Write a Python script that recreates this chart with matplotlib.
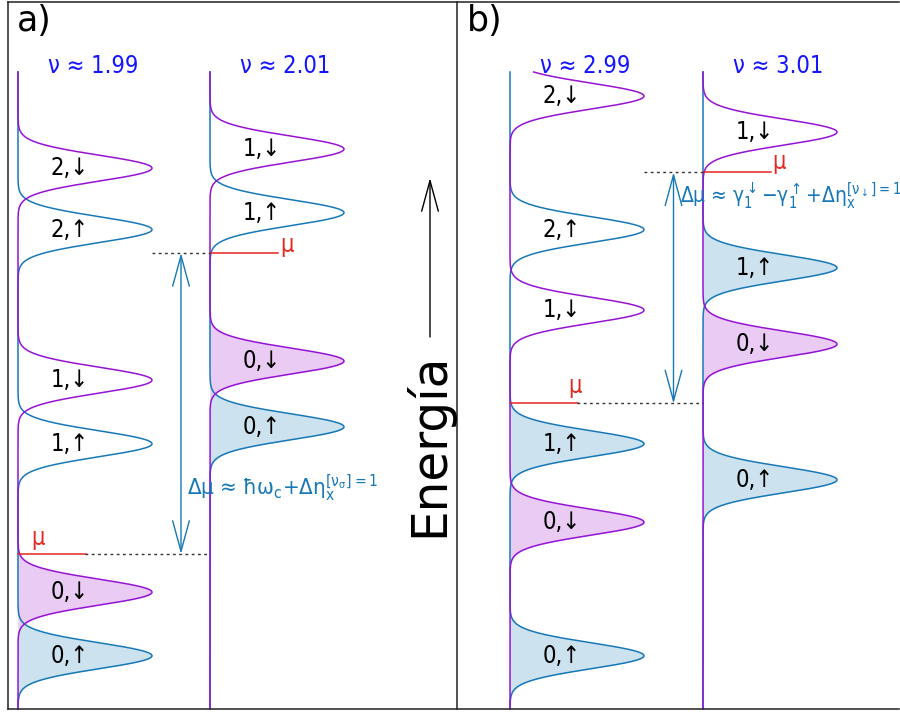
"""Landau level density of states sketch, panels a) and b)."""

import matplotlib.pyplot as plt
import numpy as np

plt.rcParams['font.family'] = ['DejaVu Sans']
plt.rcParams['mathtext.fontset'] = 'dejavusans'
plt.rcParams['mathtext.default'] = 'regular'

# level energies in units of hbar*omega_c (0 = bottom of the figure)
nu_values = ['1.99', '2.01', '2.99', '3.01']
up_a1 = [0.27, 1.27, 2.28]
down_a1 = [0.57, 1.57, 2.57]
up_a2 = [1.35, 2.36]
down_a2 = [1.66, 2.66]
up_b1 = [0.27, 1.27, 2.28]
down_b1 = [0.90, 1.90, 2.91]
up_b2 = [1.10, 2.10]
down_b2 = [1.74, 2.74]
mu_levels = [0.75, 2.17, 1.46, 2.55]

gap_a = r'Δμ ≈ ħ$\omega_c{+}\Delta\eta_x^{[\nu_\sigma]{=}1}$'
gap_b = (r'Δμ ≈ $\gamma_1^{\downarrow}{-}\gamma_1^{\uparrow}{+}'
         r'\Delta\eta_x^{[\nu_{\downarrow}]{=}1}$')

BLUE = '#1778b8'
PURPLE = '#9612d6'
BLUE_FILL = '#cce3ef'
PURPLE_FILL = '#e9cbf4'
RED = '#e6261f'
TITLE = '#1414ff'
NARROW = dict(fontstretch='condensed')

W, H = 900, 713          # figure size in pixels
PX = 212.0               # pixels per hbar*omega_c
SIGMA = 0.061
AMP = 134
E = np.linspace(0.02, (H - 72) / PX, 3000)


def px(y):
    """Pixel row (from top) to energy."""
    return (H - y) / PX


def dos(levels):
    return sum(np.exp(-(E - e0) ** 2 / (2 * SIGMA ** 2)) for e0 in levels)


def column(ax, x0, ups, downs, mu, nu, mu_lab):
    g_up = x0 + AMP * dos(ups)
    g_dn = x0 + AMP * dos(downs)
    occ = E <= mu
    ax.fill_betweenx(E, x0, g_up, where=occ, interpolate=True,
                     color=BLUE_FILL, lw=0)
    ax.fill_betweenx(E, x0, g_dn, where=occ, interpolate=True,
                     color=PURPLE_FILL, lw=0)
    ax.plot(g_up, E, color=BLUE, lw=1.1)
    ax.plot(g_dn, E, color=PURPLE, lw=1.1)
    for n, e0 in enumerate(ups):
        ax.text(x0 + 52, e0, f'{n},↑', ha='center', va='center',
                fontsize=17, **NARROW)
    for n, e0 in enumerate(downs):
        ax.text(x0 + 52, e0, f'{n},↓', ha='center', va='center',
                fontsize=17, **NARROW)
    ax.text(x0 + 75, px(66), f'ν ≈ {nu}', ha='center', va='center',
            fontsize=17, color=TITLE, **NARROW)
    ax.plot([x0, x0 + 68], [mu, mu], color=RED, lw=1.1)
    ax.text(x0 + mu_lab[0], mu + mu_lab[1] / PX, 'μ', ha='center',
            va='bottom', fontsize=17, color=RED, **NARROW)


def gap(ax, x1, x2, mu_lo, mu_hi, label, ty, size):
    ax.plot([x1 + 67, x2], [mu_lo, mu_lo], color='#333333', lw=1,
            ls=(0, (2, 2.5)))
    ax.plot([x1 + AMP, x2], [mu_hi, mu_hi], color='#333333', lw=1,
            ls=(0, (2, 2.5)))
    xa = (x1 + AMP + x2) / 2
    ax.annotate('', xy=(xa, mu_hi), xytext=(xa, mu_lo),
                arrowprops=dict(arrowstyle='<->,head_length=2.2,head_width=0.6',
                                color=BLUE, lw=1, shrinkA=0, shrinkB=0,
                                mutation_scale=10))
    ax.text(xa + 6, ty, label, color=BLUE, fontsize=size, ha='left',
            va='baseline', **NARROW)


fig = plt.figure(figsize=(W / 100, H / 100), dpi=100)
ax = fig.add_axes([0, 0, 1, 1])
ax.set_xlim(0, W)
ax.set_ylim(0, H / PX)
ax.axis('off')

bases = [18, 210, 510, 703]
column(ax, bases[0], up_a1, down_a1, mu_levels[0], nu_values[0], (20, 4))
column(ax, bases[1], up_a2, down_a2, mu_levels[1], nu_values[1], (77, -4))
column(ax, bases[2], up_b1, down_b1, mu_levels[2], nu_values[2], (65, 5))
column(ax, bases[3], up_b2, down_b2, mu_levels[3], nu_values[3], (76, -2))

gap(ax, bases[0], bases[1], mu_levels[0], mu_levels[1], gap_a, px(495), 16)
gap(ax, bases[2], bases[3], mu_levels[2], mu_levels[3], gap_b, px(203), 15)

# frame and panel divider
tf = fig.transFigure
for xs, ys in [([8, 8], [2, 709]), ([8, 899], [2, 2]), ([8, 899], [709, 709]),
               ([457, 457], [2, 709])]:
    fig.add_artist(plt.Line2D([x / W for x in xs], [1 - y / H for y in ys],
                              transform=tf, color='#222222', lw=1.1))

fig.text(17 / W, 1 - 4 / H, 'a)', fontsize=25, ha='left', va='top')
fig.text(467 / W, 1 - 4 / H, 'b)', fontsize=25, ha='left', va='top')

fig.text(428 / W, 1 - 445 / H, 'Energía', fontsize=35, rotation=90,
         ha='center', va='center')
ax.annotate('', xy=(430, px(178)), xytext=(430, px(337)),
            arrowprops=dict(arrowstyle='->,head_length=2.2,head_width=0.6',
                            color='black', lw=1, shrinkA=0, shrinkB=0,
                            mutation_scale=10))

fig.savefig('out.png', dpi=100)
